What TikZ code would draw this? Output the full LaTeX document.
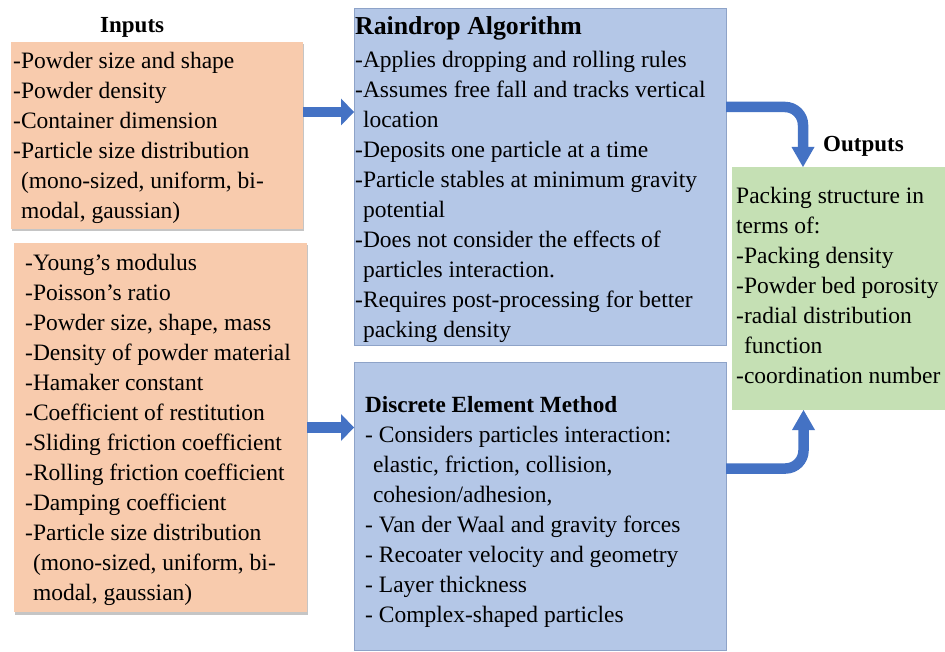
\documentclass[tikz,border=0pt]{standalone}
\usepackage{fontspec}
\setmainfont{Liberation Serif}
\usetikzlibrary{arrows.meta,shadows}
\definecolor{orfill}{HTML}{F8CBAD}
\definecolor{blfill}{HTML}{B4C7E7}
\definecolor{blline}{HTML}{8EA3C8}
\definecolor{grfill}{HTML}{C5E0B4}
\definecolor{arrblue}{HTML}{4472C4}
\newcommand\fbody{\fontsize{23.5}{30}\selectfont}
\newcommand\fl{\rule{0pt}{17pt}}
\newcommand\ind{\hphantom{-}}
\begin{document}
\begin{tikzpicture}[x=1pt,y=-1pt,
  boxbase/.style={inner sep=0pt, outer sep=0pt, anchor=north west},
  inbox/.style={boxbase, fill=orfill, drop shadow={shadow xshift=1pt, shadow yshift=-2.5pt, opacity=0.45}},
  algbox/.style={boxbase, fill=blfill, draw=blline, line width=0.9pt},
  outbox/.style={boxbase, fill=grfill},
  txt/.style={inner sep=0pt, anchor=north west, align=left, font=\fbody},
  ttl/.style={inner sep=0pt, anchor=base west, font=\bfseries\fontsize{23}{28}\selectfont},
  fat/.style={draw=arrblue, line width=10.5pt},
  headA/.style={-{Triangle[width=27pt,length=13pt,line width=0pt]}},
  headB/.style={-{Triangle[width=23pt,length=20pt,line width=0pt]}}
]
\useasboundingbox (0,0) rectangle (945,652);
\fill[white] (0,0) rectangle (945,652);

% boxes
\node[inbox, minimum width=292pt, minimum height=187pt] (in1) at (11,42) {};
\node[inbox, minimum width=293pt, minimum height=369pt] (in2) at (14,243) {};
\node[algbox, minimum width=372pt, minimum height=337pt] (rd) at (354,8) {};
\node[algbox, minimum width=372pt, minimum height=288pt] (dem) at (354,362) {};
\node[outbox, minimum width=213pt, minimum height=243pt] (out) at (732,167) {};

% titles
\node[ttl] (tin) at (100,33) {Inputs};
\node[ttl] (tout) at (823,152) {Outputs};
\node[ttl, font=\bfseries\fontsize{25.8}{30}\selectfont] (trd) at (355,35) {Raindrop Algorithm};
\node[ttl, font=\bfseries\fontsize{23.2}{28}\selectfont] (tdem) at (365,412) {Discrete Element Method};

% texts
\node[txt] (x1) at (13,51) {\fl-Powder size and shape\\
-Powder density\\
-Container dimension\\
-Particle size distribution\\
\ind(mono-sized, uniform, bi-\\
\ind modal, gaussian)};

\node[txt] (x2) at (25,253) {\fl-Young’s modulus\\
-Poisson’s ratio\\
-Powder size, shape, mass\\
-Density of powder material\\
-Hamaker constant\\
-Coefficient of restitution\\
-Sliding friction coefficient\\
-Rolling friction coefficient\\
-Damping coefficient\\
-Particle size distribution\\
\ind(mono-sized, uniform, bi-\\
\ind modal, gaussian)};

\node[txt] (x3) at (355,50) {\fl-Applies dropping and rolling rules\\
-Assumes free fall and tracks vertical\\
\ind location\\
-Deposits one particle at a time\\
-Particle stables at minimum gravity\\
\ind potential\\
-Does not consider the effects of\\
\ind particles interaction.\\
-Requires post-processing for better\\
\ind packing density};

\node[txt] (x4) at (365,425) {\fl- Considers particles interaction:\\
\ind elastic, friction, collision,\\
\ind cohesion/adhesion,\\
- Van der Waal and gravity forces\\
- Recoater velocity and geometry\\
- Layer thickness\\
- Complex-shaped particles};

\node[txt] (x5) at (736,186) {\fl Packing structure in\\
terms of:\\
-Packing density\\
-Powder bed porosity\\
-radial distribution\\
\ind function\\
-coordination number};

% connectors
\draw[fat, headA] ([yshift=23.5pt]in1.east) coordinate (s1) -- (s1 -| rd.west);
\draw[fat, headA] (in2.east) -- (in2.east -| dem.west);
\draw[fat, headB, rounded corners=18pt] ([yshift=69.5pt]rd.east) -| ([xshift=-35.5pt]out.north);
\draw[fat, headB, rounded corners=18pt] ([yshift=37.5pt]dem.east) -| ([xshift=-35pt]out.south);
\end{tikzpicture}
\end{document}
